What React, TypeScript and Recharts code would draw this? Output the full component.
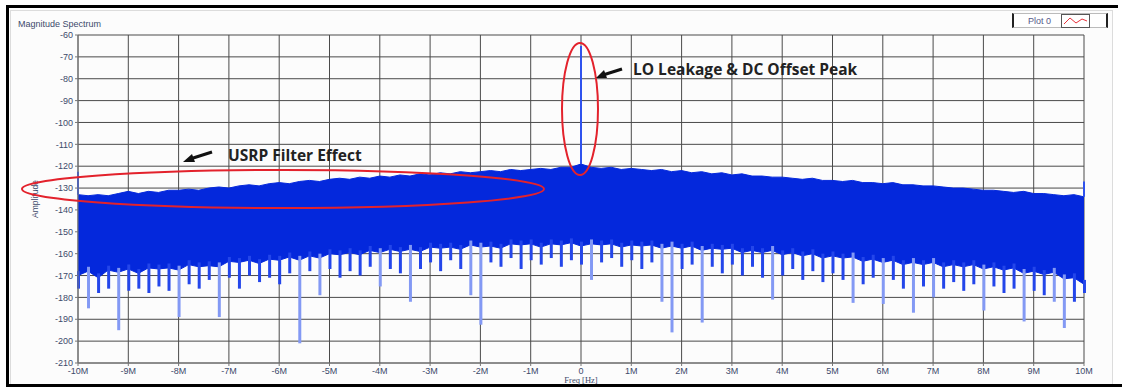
import React from 'react';
import { ComposedChart, Area, Bar, Line, Cell, XAxis, YAxis, CartesianGrid } from 'recharts';

// frequency grid in MHz, 0.2M step
const freqs: number[] = Array.from({ length: 101 }, (_, i) => Math.round((-10 + i * 0.2) * 10) / 10);

// upper envelope of the dense noise floor (dB)
const topLevel = [
  -133, -133.5, -133, -133.5, -132.5, -131.5, -132.5, -131.5, -132, -131,
  -131, -130.5, -131, -130, -129.5, -130, -129, -128.5, -129, -128,
  -127.5, -128, -127, -126.5, -127, -126, -125.5, -126, -125, -125.5,
  -124.5, -125, -124, -124.5, -123.5, -124, -123, -123.5, -122.5, -123,
  -122.5, -122, -122.5, -121.5, -122, -121.5, -121, -121.5, -120.5, -120.5,
  -119, -120.5, -121, -120.5, -121.5, -121, -121.5, -122, -121.5, -122.5,
  -122, -123, -122.5, -123.5, -123, -124, -123.5, -124.5, -124.5, -125,
  -125, -125.5, -126, -125.5, -126.5, -126.5, -127, -126.5, -127.5, -127.5,
  -128, -127.5, -128.5, -128.5, -129, -129, -129.5, -130, -130, -130.5,
  -131, -131, -131.5, -132, -131.5, -132.5, -132.5, -133, -133.5, -133,
  -134,
];

// lower edge of the solid band (dB)
const lowLevel = [
  -170, -168, -171, -167.5, -168.5, -167, -169, -166.5, -167, -166.5,
  -167.5, -165, -166, -165.5, -166, -163.5, -164, -163, -164.5, -162.5,
  -163, -161.5, -163, -161, -162, -160, -160.5, -159.5, -160.5, -158.5,
  -159.5, -158, -159, -158, -159, -157, -157.5, -157, -158, -156,
  -157, -156.5, -157.5, -155.5, -156, -155.5, -157, -155.5, -156, -155,
  -156.5, -155.5, -156, -155.5, -157, -156, -156.5, -156, -157.5, -156.5,
  -157.5, -156.5, -158.5, -157.5, -158, -157.5, -159.5, -158.5, -159.5, -158.5,
  -160.5, -159.5, -161, -160, -162, -161, -162, -161.5, -163.5, -162.5,
  -164, -163, -165, -164, -165, -164, -166, -165, -166, -165,
  -167, -166, -167.5, -166.5, -169, -168, -169.5, -168.5, -171.5, -171,
  -174,
];

// bottom of the downward noise spikes (dB)
const spikeLevel = [
  -176, -185, -178, -176, -195, -177, -176, -178, -175, -177,
  -189, -174, -176, -172, -189, -171, -176, -170, -173, -171,
  -174, -169, -201, -168, -179, -167, -171, -168, -170, -166,
  -175, -167, -169, -182, -167, -164, -168, -163, -167, -179,
  -192.5, -164, -166, -162, -167, -163, -165, -162, -166, -163,
  -165, -172, -164, -162, -166, -163, -167, -164, -182, -196,
  -167, -165, -191.5, -166, -169, -165, -170, -166, -171, -181,
  -170, -167, -172, -168, -173, -169, -172, -182.5, -174, -171,
  -183, -172, -176, -187, -175, -180, -176, -173, -177, -174,
  -186, -175, -178, -176, -191, -177, -179, -182, -194, -182,
  -178,
];

// narrow peaks: position (MHz), foot and tip (dB)
const peakFreqs = [-10, 0, 10];
const peakBase = [-133, -119, -134];
const peakTip = [-122.5, -65, -127];

const xTicks = [-10, -9, -8, -7, -6, -5, -4, -3, -2, -1, 0, 1, 2, 3, 4, 5, 6, 7, 8, 9, 10];
const yTicks = [-60, -70, -80, -90, -100, -110, -120, -130, -140, -150, -160, -170, -180, -190, -200, -210];

const data = freqs.map((f, i) => ({
  f,
  band: [lowLevel[i], topLevel[i]],
  spike: [spikeLevel[i], lowLevel[i] + 2],
}));

const DENSE = '#0428dc';
const FRINGE = '#2446ea';
const DEEP = '#8399f4';

const tickStyle = { fontSize: 9, fill: '#3d4a6b', fontFamily: 'Liberation Sans, Arial, sans-serif' };

const AmpLabel = (props: any) => {
  const vb = props.viewBox || {};
  const cx = 36;
  const cy = vb.y + vb.height / 2;
  return (
    <text x={cx} y={cy} transform={`rotate(-90 ${cx} ${cy})`} textAnchor="middle" dominantBaseline="middle"
      fontSize={8.5} fill="#3d4a6b" fontFamily="Liberation Sans, Arial, sans-serif">
      Amplitude
    </text>
  );
};

export default function App() {
  return (
    <div style={{ position: 'absolute', left: 0, top: 0, width: 1122, height: 388, background: '#fff', overflow: 'hidden' }}>
      {/* panel frame */}
      <div style={{ position: 'absolute', left: 6, top: 5, width: 1112, height: 3, background: '#000' }} />
      <div style={{ position: 'absolute', left: 6, top: 5, width: 3, height: 382, background: '#000' }} />
      <div style={{ position: 'absolute', left: 6, top: 384, width: 1116, height: 3, background: '#000' }} />
      <div style={{ position: 'absolute', left: 10, top: 10, width: 1101, height: 373, border: '1px solid #dcdcdc', borderBottom: 'none', background: '#fcfcfc' }} />
      <div style={{ position: 'absolute', left: 18, top: 19, fontSize: 9, color: '#3d4a6b', fontFamily: 'Liberation Sans, Arial, sans-serif' }}>
        Magnitude Spectrum
      </div>
      {/* plot legend */}
      <div style={{ position: 'absolute', left: 1012, top: 13, width: 92, height: 13, borderLeft: '2px solid #222', borderRight: '2px solid #222', borderTop: '1px solid #bbb', borderBottom: '1px solid #bbb', background: '#fff', display: 'flex', alignItems: 'center' }}>
        <span style={{ marginLeft: 14, fontSize: 9, color: '#555a8a', fontFamily: 'Liberation Sans, Arial, sans-serif' }}>Plot 0</span>
        <svg width={27} height={12} style={{ marginLeft: 10, border: '1px solid #555', background: '#fff' }}>
          <polyline points="2,9 8,3 14,8 20,4 25,6" fill="none" stroke="#e8303a" strokeWidth={1} />
        </svg>
      </div>

      <div style={{ position: 'absolute', left: 0, top: 0 }}>
        <ComposedChart width={1122} height={388} data={data} margin={{ top: 35, right: 38, bottom: 5, left: 18 }}>
          <CartesianGrid stroke="#4a4a4a" strokeWidth={1} />
          <XAxis type="number" dataKey="f" domain={[-10, 10]} ticks={xTicks} interval={0} height={20}
            tickSize={3} tick={tickStyle} stroke="#777"
            tickFormatter={(v: number) => (v === 0 ? '0' : `${v}M`)}
            label={{ value: 'Freq [Hz]', position: 'insideBottom', offset: 0, fontSize: 8.5, fill: '#3d4a6b' }} />
          <YAxis type="number" domain={[-210, -60]} ticks={yTicks} interval={0} width={60}
            tickSize={3} tick={tickStyle} stroke="#777" label={<AmpLabel />} />
          <Bar dataKey="spike" barSize={3} isAnimationActive={false}>
            {data.map((d, i) => (
              <Cell key={i} fill={lowLevel[i] - spikeLevel[i] > 13 ? DEEP : FRINGE} />
            ))}
          </Bar>
          <Area type="linear" dataKey="band" fill={DENSE} fillOpacity={1} stroke={DENSE} strokeWidth={1}
            isAnimationActive={false} dot={false} activeDot={false} />
          {peakFreqs.map((f, i) => (
            <Line key={f} data={[{ f, v: peakBase[i] }, { f, v: peakTip[i] }]} dataKey="v" stroke="#2f52ee"
              strokeWidth={2} dot={false} activeDot={false} isAnimationActive={false} />
          ))}
        </ComposedChart>
      </div>

      {/* annotations */}
      <svg width={1122} height={388} style={{ position: 'absolute', left: 0, top: 0, pointerEvents: 'none' }}>
        <ellipse cx={283} cy={189} rx={261} ry={19} fill="none" stroke="#e3222c" strokeWidth={2} />
        <ellipse cx={580} cy={109} rx={18} ry={66} fill="none" stroke="#e3222c" strokeWidth={2} />
        <line x1={212} y1={152} x2={190} y2={159} stroke="#111" strokeWidth={3} />
        <polygon points="183,162 192,154 195,162" fill="#111" />
        <text x={228} y={161} fontSize={15.5} fontWeight="bold" fill="#222" fontFamily="Open Sans, sans-serif">USRP Filter Effect</text>
        <line x1={622} y1={69} x2={603} y2={75} stroke="#111" strokeWidth={3} />
        <polygon points="596,78 604,70 607,78" fill="#111" />
        <text x={633} y={75} fontSize={15.5} fontWeight="bold" fill="#222" fontFamily="Open Sans, sans-serif">LO Leakage &amp; DC Offset Peak</text>
      </svg>
    </div>
  );
}
